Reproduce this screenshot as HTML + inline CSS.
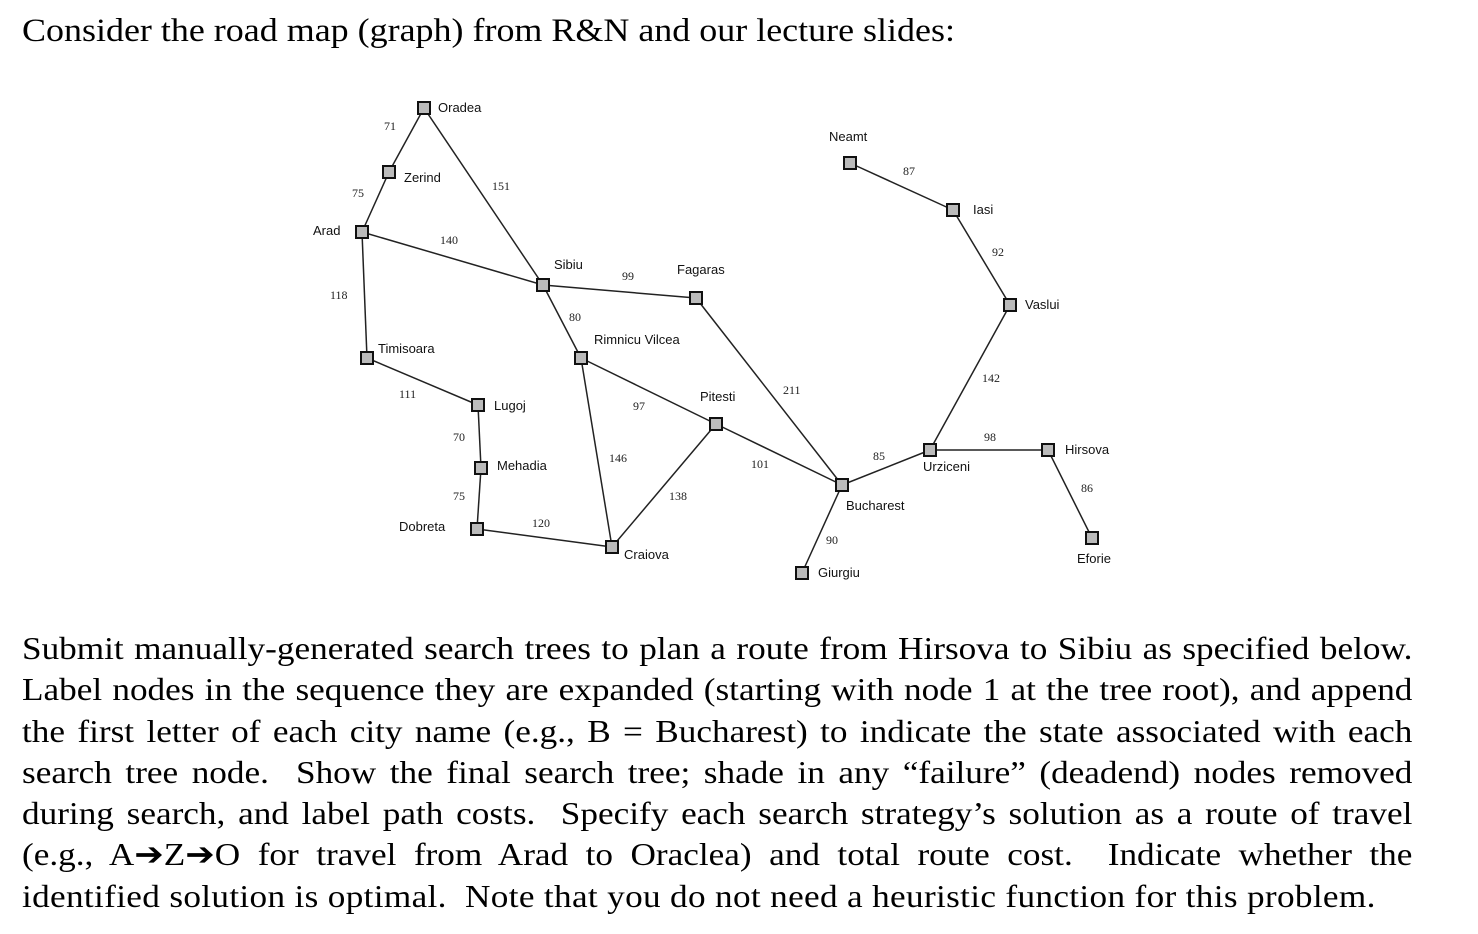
<!DOCTYPE html>
<html><head><meta charset="utf-8"><style>
body{margin:0;width:1478px;height:934px;background:#fff;position:relative;overflow:hidden;font-family:"Liberation Serif",serif;color:#000}
.t{position:absolute;left:22px;top:13px;font-size:33px;white-space:nowrap;transform-origin:0 0;transform:scaleX(1.09)}
.p{position:absolute;left:22px;top:628px;width:1264px;font-size:32px;line-height:41.3px;transform-origin:0 0;transform:scaleX(1.1)}
.p div{text-align:justify;text-align-last:justify;white-space:nowrap}
.p div.l{text-align-last:left;letter-spacing:0.3px}
svg{position:absolute;left:0;top:0}
svg text{font-family:"Liberation Sans",sans-serif;font-size:13px}
svg text.n{font-family:"Liberation Serif",serif;font-size:12px}
</style></head><body>
<div class="t">Consider the road map (graph) from R&amp;N and our lecture slides:</div>
<svg width="1478" height="620" viewBox="0 0 1478 620">
<g stroke="#222" stroke-width="1.5" fill="none">
<line x1="424" y1="108" x2="389" y2="172"/><line x1="389" y1="172" x2="362" y2="232"/>
<line x1="424" y1="108" x2="543" y2="285"/><line x1="362" y1="232" x2="543" y2="285"/>
<line x1="362" y1="232" x2="367" y2="358"/><line x1="367" y1="358" x2="478" y2="405"/>
<line x1="478" y1="405" x2="481" y2="468"/><line x1="481" y1="468" x2="477" y2="529"/>
<line x1="477" y1="529" x2="612" y2="547"/><line x1="543" y1="285" x2="696" y2="298"/>
<line x1="543" y1="285" x2="581" y2="358"/><line x1="581" y1="358" x2="612" y2="547"/>
<line x1="581" y1="358" x2="716" y2="424"/><line x1="612" y1="547" x2="716" y2="424"/>
<line x1="716" y1="424" x2="842" y2="485"/><line x1="696" y1="298" x2="842" y2="485"/>
<line x1="842" y1="485" x2="802" y2="573"/><line x1="842" y1="485" x2="930" y2="450"/>
<line x1="930" y1="450" x2="1048" y2="450"/><line x1="1048" y1="450" x2="1092" y2="538"/>
<line x1="930" y1="450" x2="1010" y2="305"/><line x1="1010" y1="305" x2="953" y2="210"/>
<line x1="953" y1="210" x2="850" y2="163"/>
</g>
<g fill="#bbb" stroke="#111" stroke-width="2">
<rect x="418" y="102" width="12" height="12"/><rect x="383" y="166" width="12" height="12"/>
<rect x="356" y="226" width="12" height="12"/><rect x="361" y="352" width="12" height="12"/>
<rect x="472" y="399" width="12" height="12"/><rect x="475" y="462" width="12" height="12"/>
<rect x="471" y="523" width="12" height="12"/><rect x="606" y="541" width="12" height="12"/>
<rect x="575" y="352" width="12" height="12"/><rect x="537" y="279" width="12" height="12"/>
<rect x="690" y="292" width="12" height="12"/><rect x="710" y="418" width="12" height="12"/>
<rect x="836" y="479" width="12" height="12"/><rect x="796" y="567" width="12" height="12"/>
<rect x="924" y="444" width="12" height="12"/><rect x="1042" y="444" width="12" height="12"/>
<rect x="1086" y="532" width="12" height="12"/><rect x="1004" y="299" width="12" height="12"/>
<rect x="947" y="204" width="12" height="12"/><rect x="844" y="157" width="12" height="12"/>
</g>
<g fill="#111">
<text x="438" y="112">Oradea</text><text x="404" y="182">Zerind</text>
<text x="313" y="235">Arad</text><text x="378" y="353">Timisoara</text>
<text x="494" y="410">Lugoj</text><text x="497" y="470">Mehadia</text>
<text x="399" y="531">Dobreta</text><text x="624" y="559">Craiova</text>
<text x="594" y="344">Rimnicu Vilcea</text><text x="554" y="269">Sibiu</text>
<text x="677" y="274">Fagaras</text><text x="700" y="401">Pitesti</text>
<text x="846" y="510">Bucharest</text><text x="818" y="577">Giurgiu</text>
<text x="923" y="471">Urziceni</text><text x="1065" y="454">Hirsova</text>
<text x="1077" y="563">Eforie</text><text x="1025" y="309">Vaslui</text>
<text x="973" y="214">Iasi</text><text x="829" y="141">Neamt</text>
</g>
<g fill="#222">
<text class="n" x="384" y="130">71</text><text class="n" x="352" y="197">75</text>
<text class="n" x="492" y="190">151</text><text class="n" x="440" y="244">140</text>
<text class="n" x="330" y="299">118</text><text class="n" x="622" y="280">99</text>
<text class="n" x="569" y="321">80</text><text class="n" x="399" y="398">111</text>
<text class="n" x="633" y="410">97</text><text class="n" x="783" y="394">211</text>
<text class="n" x="453" y="441">70</text><text class="n" x="609" y="462">146</text>
<text class="n" x="751" y="468">101</text><text class="n" x="453" y="500">75</text>
<text class="n" x="669" y="500">138</text><text class="n" x="532" y="527">120</text>
<text class="n" x="903" y="175">87</text><text class="n" x="992" y="256">92</text>
<text class="n" x="982" y="382">142</text><text class="n" x="984" y="441">98</text>
<text class="n" x="873" y="460">85</text><text class="n" x="1081" y="492">86</text>
<text class="n" x="826" y="544">90</text>
</g>
</svg>
<div class="p">
<div>Submit manually-generated search trees to plan a route from Hirsova to Sibiu as specified below.</div>
<div>Label nodes in the sequence they are expanded (starting with node 1 at the tree root), and append</div>
<div>the first letter of each city name (e.g., B = Bucharest) to indicate the state associated with each</div>
<div>search tree node.&nbsp; Show the final search tree; shade in any “failure” (deadend) nodes removed</div>
<div>during search, and label path costs.&nbsp; Specify each search strategy’s solution as a route of travel</div>
<div>(e.g., A➔Z➔O for travel from Arad to Oraclea) and total route cost.&nbsp; Indicate whether the</div>
<div class="l">identified solution is optimal.&nbsp; Note that you do not need a heuristic function for this problem.</div>
</div>
</body></html>
